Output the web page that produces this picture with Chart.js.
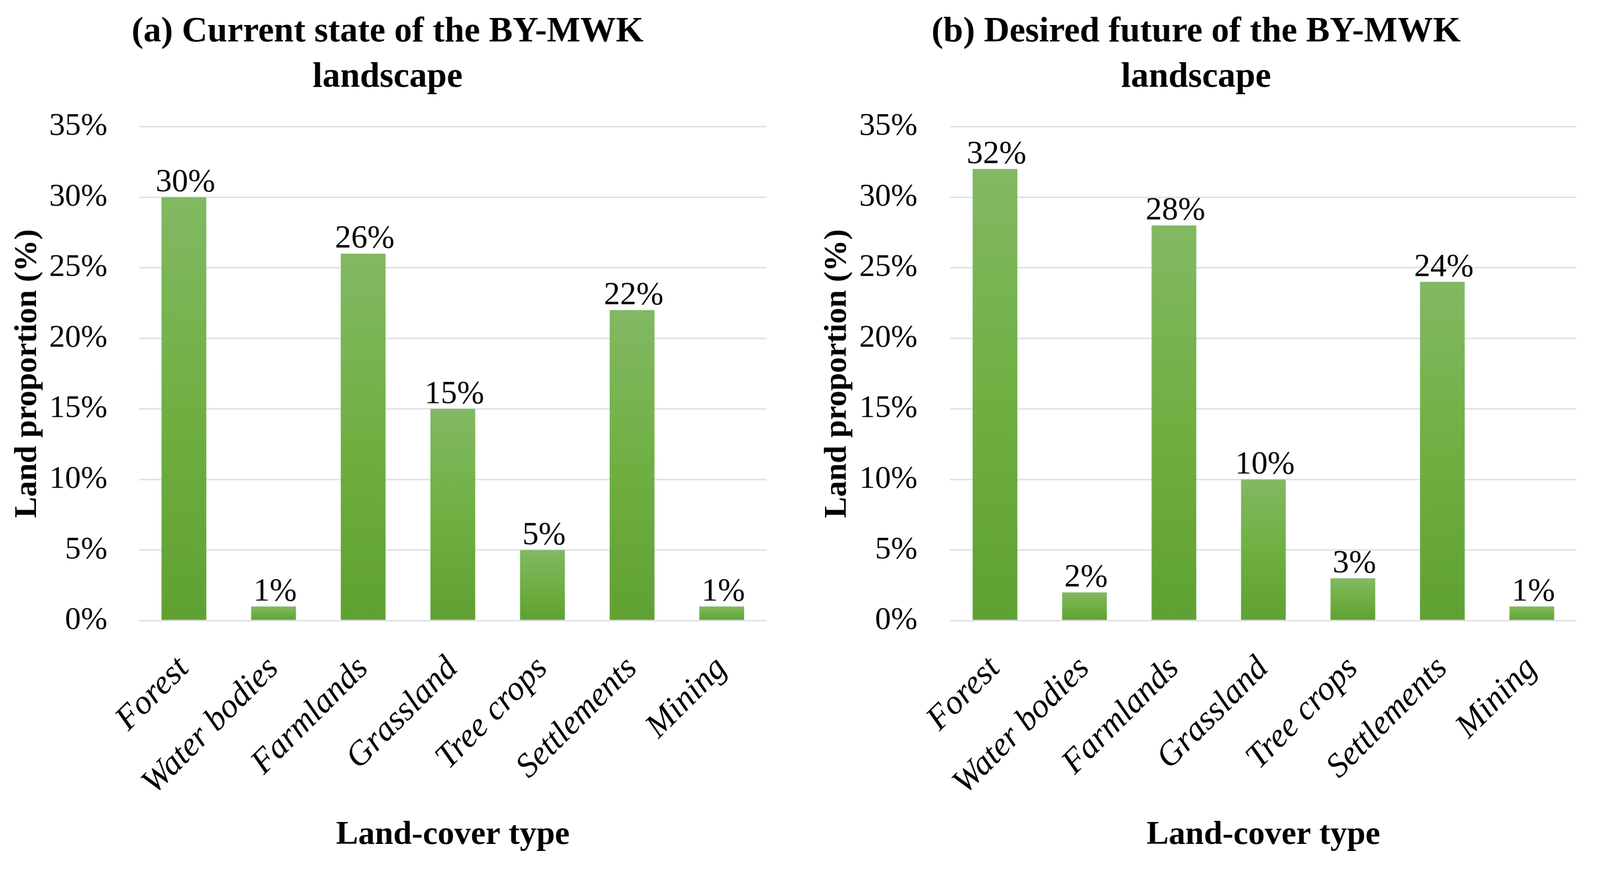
<!DOCTYPE html>
<html><head><meta charset="utf-8">
<script src="https://cdn.jsdelivr.net/npm/chart.js@4/dist/chart.umd.min.js"></script>
<style>
html,body{margin:0;padding:0;background:#fff;overflow:hidden}
.box{position:absolute;top:0}
</style></head><body>
<div class="box" id="b1"><canvas id="c1"></canvas></div>
<div class="box" id="b2"><canvas id="c2"></canvas></div>
<script>
const categories = ['Forest','Water bodies','Farmlands','Grassland','Tree crops','Settlements','Mining'];
const currentValues = [30,1,26,15,5,22,1];
const desiredValues = [32,2,28,10,3,24,1];
const yTicks = [0,5,10,15,20,25,30,35];
const titleA = ['(a) Current state of the BY-MWK','landscape'];
const titleB = ['(b) Desired future of the BY-MWK','landscape'];
const yTitle = 'Land proportion (%)';
const xTitle = 'Land-cover type';

const FAM = "'Liberation Serif', 'Times New Roman', serif";
const VW = window.innerWidth || 4236, VH = window.innerHeight || 2278;
const K = Math.min(VW / 4236, VH / 2278);
const px = v => v * K;

function place(id, left, width) {
  const b = document.getElementById(id);
  b.style.left = px(left) + 'px';
  b.style.width = px(width) + 'px';
  b.style.height = px(2278) + 'px';
}
place('b1', 0, 2062);
place('b2', 2137, 2070);

const valueLabels = {
  id: 'valueLabels',
  afterDatasetsDraw(chart) {
    const ctx = chart.ctx;
    const meta = chart.getDatasetMeta(0);
    const data = chart.data.datasets[0].data;
    ctx.save();
    ctx.font = px(86) + "px " + FAM;
    ctx.fillStyle = '#000';
    ctx.textAlign = 'center';
    ctx.textBaseline = 'alphabetic';
    meta.data.forEach((el, i) => {
      ctx.fillText(data[i] + '%', el.x + px(4), el.y - px(16));
    });
    ctx.restore();
  }
};

function barFill(ctx) {
  const c = ctx.chart;
  if (!c.chartArea || ctx.type !== 'data') return '#70b043';
  const ys = c.scales.y;
  const top = ys.getPixelForValue(ctx.raw);
  const bot = ys.getPixelForValue(0);
  const g = c.ctx.createLinearGradient(0, top, 0, bot);
  g.addColorStop(0, '#82b963');
  g.addColorStop(0.5, '#70b043');
  g.addColorStop(1, '#60a134');
  return g;
}

function makeChart(id, title, values, yW, yTitlePad, tickPad) {
  return new Chart(document.getElementById(id), {
    type: 'bar',
    data: {
      labels: categories,
      datasets: [{
        data: values,
        backgroundColor: barFill,
        borderWidth: 0,
        categoryPercentage: 0.5,
        barPercentage: 1.0
      }]
    },
    options: {
      responsive: true,
      maintainAspectRatio: false,
      animation: false,
      layout: { padding: { left: 0, right: px(11), top: 0, bottom: 0 } },
      plugins: {
        legend: { display: false },
        tooltip: { enabled: false },
        title: {
          display: true,
          text: title,
          color: '#000',
          font: { family: FAM, size: px(94), weight: 'bold', lineHeight: 120 / 94 },
          padding: { top: px(25), bottom: px(70) }
        }
      },
      scales: {
        x: {
          grid: { display: false, drawTicks: false },
          border: { display: false },
          ticks: {
            color: '#000',
            font: { family: FAM, size: px(90), style: 'italic' },
            minRotation: 45, maxRotation: 45, autoSkip: false,
            padding: px(75)
          },
          title: {
            display: true, text: xTitle, color: '#000',
            font: { family: FAM, size: px(88), weight: 'bold', lineHeight: 1.2 },
            padding: { top: 0, bottom: px(15) }
          },
          afterFit: s => { s.height = px(636); }
        },
        y: {
          min: 0, max: 35,
          afterBuildTicks: s => { s.ticks = yTicks.map(v => ({ value: v })); },
          grid: { color: '#dde1e6', lineWidth: px(4), drawTicks: false },
          border: { display: false },
          ticks: {
            color: '#000',
            font: { family: FAM, size: px(84) },
            padding: px(tickPad),
            callback: v => v + '%'
          },
          title: {
            display: true, text: yTitle, color: '#000',
            font: { family: FAM, size: px(84), weight: 'bold', lineHeight: 1.2 },
            padding: { top: px(yTitlePad), bottom: 0 }
          },
          afterFit: s => { s.width = px(yW); }
        }
      }
    },
    plugins: [valueLabels]
  });
}

makeChart('c1', titleA, currentValues, 368, 23, 84);
makeChart('c2', titleB, desiredValues, 379, 30, 87);
</script>
</body></html>
